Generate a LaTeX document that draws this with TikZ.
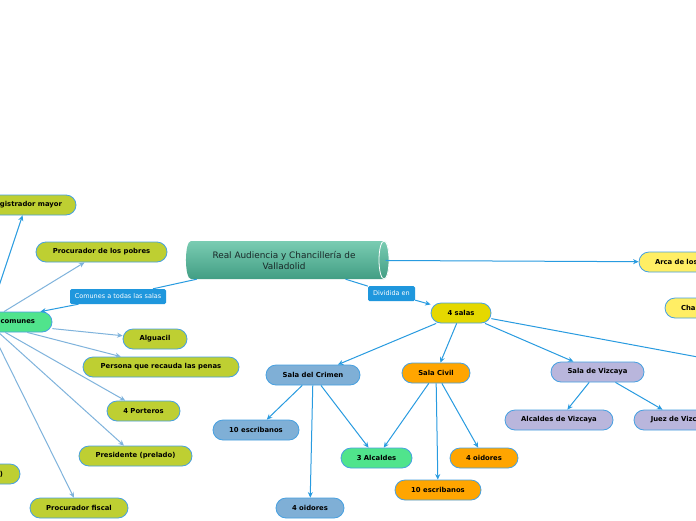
\documentclass[tikz,border=0pt]{standalone}
\usepackage{fontspec}
\setmainfont{DejaVu Sans}
\usetikzlibrary{arrows.meta}
\definecolor{olive}{RGB}{190,207,50}
\definecolor{mint}{RGB}{80,228,140}
\definecolor{yel}{RGB}{229,216,0}
\definecolor{lyel}{RGB}{255,238,100}
\definecolor{sblue}{RGB}{127,175,214}
\definecolor{orng}{RGB}{255,165,0}
\definecolor{lav}{RGB}{185,182,220}
\definecolor{borderblue}{RGB}{70,160,225}
\definecolor{labelblue}{RGB}{31,151,221}
\definecolor{arrowblue}{RGB}{40,155,224}
\definecolor{lightline}{RGB}{127,179,220}
\definecolor{cyltop}{RGB}{122,204,178}
\definecolor{cylbot}{RGB}{66,158,132}
\definecolor{cyltext}{RGB}{25,40,40}
\begin{document}
\begin{tikzpicture}[x=1pt,y=-1pt,
  pill/.style={draw=borderblue, line width=0.8pt, rounded corners=10pt, minimum height=20pt,
    inner xsep=0pt, inner ysep=0pt, font=\bfseries\fontsize{6.85}{8}\selectfont, text=black},
  lbl/.style={fill=labelblue, rounded corners=1.5pt, minimum height=15pt, inner xsep=0pt, inner ysep=0pt,
    text=white, font=\fontsize{6.5}{7.5}\selectfont},
  darr/.style={draw=arrowblue, line width=1pt, -{Stealth[length=5.5pt,width=5pt]}},
  dline/.style={draw=arrowblue, line width=1pt},
  larr/.style={draw=lightline, line width=1pt, -{Stealth[length=5.5pt,width=5pt]}},
]
\useasboundingbox (0,0) rectangle (696,520);
\fill[white] (0,0) rectangle (696,520);
\clip (0,0) rectangle (696,520);

% central cylinder
\shade[top color=cyltop, bottom color=cylbot]
  (191,241) -- (384,241) .. controls (390.7,241) and (390.7,279) .. (384,279)
  -- (191,279) .. controls (184.3,279) and (184.3,241) .. (191,241) -- cycle;
\shade[top color=cyltop, bottom color=cylbot, draw=white, line width=0.8pt]
  (384,260) ellipse [x radius=5, y radius=19];
\node[minimum width=203pt, minimum height=38pt, align=center, text=cyltext,
  font=\fontsize{8.9}{11}\selectfont] (central) at (284,260)
  {Real Audiencia y Chancillería de\\Valladolid};

% left side
\node[pill, fill=olive, minimum width=100pt] (reg) at (26,205) {Registrador mayor};
\node[pill, fill=olive, minimum width=131pt] (pobres) at (101.5,252) {Procurador de los pobres};
\node[pill, fill=mint, text width=96pt, align=right, inner xsep=17pt] (comunes) at (-13,322) {comunes};
\node[pill, fill=olive, minimum width=64pt] (alguacil) at (155,339) {Alguacil};
\node[pill, fill=olive, minimum width=156pt] (persona) at (161,367) {Persona que recauda las penas};
\node[pill, fill=olive, minimum width=73pt] (porteros) at (143.5,411) {4 Porteros};
\node[pill, fill=olive, minimum width=113pt] (presidente) at (135.5,456) {Presidente (prelado)};
\node[pill, fill=olive, text width=66pt, align=right, inner xsep=17pt] (paren) at (-30,474) {)};
\node[pill, fill=olive, minimum width=98pt] (fiscal) at (79,508) {Procurador fiscal};

% labels
\node[lbl, minimum width=96pt] (comlbl) at (118,296.5) {Comunes a todas las salas};
\node[lbl, minimum width=47pt] (divlbl) at (391.5,293.5) {Dividida en};

% right side
\node[pill, fill=yel, minimum width=60pt] (salas) at (461,313) {4 salas};
\node[pill, fill=lyel, text width=96pt, align=left, inner xsep=16pt] (arca) at (703,262) {Arca de los};
\node[pill, fill=lyel, text width=68pt, align=left, inner xsep=16pt] (cha) at (715,308) {Cha};
\coordinate (hijos) at (800,376);

\node[pill, fill=sblue, minimum width=94pt] (crimen) at (313,375) {Sala del Crimen};
\node[pill, fill=orng, minimum width=68pt] (civil) at (436,373) {Sala Civil};
\node[pill, fill=lav, minimum width=93pt] (vizcaya) at (597.5,372) {Sala de Vizcaya};

\node[pill, fill=sblue, minimum width=86pt] (esc1) at (256,430) {10 escribanos};
\node[pill, fill=sblue, minimum width=68pt] (oid1) at (310,508) {4 oidores};
\node[pill, fill=mint, minimum width=71pt] (alc) at (376.5,458) {3 Alcaldes};
\node[pill, fill=orng, minimum width=86pt] (esc2) at (438,490) {10 escribanos};
\node[pill, fill=orng, minimum width=68pt] (oid2) at (484,458) {4 oidores};
\node[pill, fill=lav, minimum width=108pt] (alcv) at (559,420) {Alcaldes de Vizcaya};
\node[pill, fill=lav, minimum width=93pt] (juez) at (680.5,420) {Juez de Vizcaya};

% connectors
\draw[darr] (central) -- (arca);
\draw[dline] (central) -- (divlbl);
\draw[darr] (divlbl) -- (salas);
\draw[dline] (central) -- (comlbl);
\draw[darr] (comlbl) -- (comunes);

\draw[darr] (comunes) -- (reg);
\draw[larr] (comunes) -- (pobres);
\draw[larr] (comunes) -- (alguacil);
\draw[larr] (comunes) -- (persona);
\draw[larr] (comunes) -- (porteros);
\draw[larr] (comunes) -- (presidente);
\draw[larr] (comunes) -- (fiscal);

\draw[darr] (salas) -- (crimen);
\draw[darr] (salas) -- (civil);
\draw[darr] (salas) -- (vizcaya);
\draw[darr] (salas) -- (hijos);

\draw[darr] (crimen) -- (esc1);
\draw[darr] (crimen) -- (oid1);
\draw[darr] (crimen) -- (alc);
\draw[darr] (civil) -- (alc);
\draw[darr] (civil) -- (esc2);
\draw[darr] (civil) -- (oid2);
\draw[darr] (vizcaya) -- (alcv);
\draw[darr] (vizcaya) -- (juez);
\end{tikzpicture}
\end{document}
